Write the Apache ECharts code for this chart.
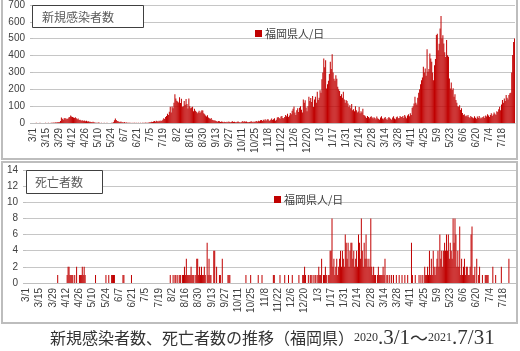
<!DOCTYPE html>
<html><head><meta charset="utf-8">
<script src="https://cdn.jsdelivr.net/npm/echarts/dist/echarts.min.js"></script>
<style>html,body{margin:0;padding:0;background:#fff}#c{width:520px;height:351px}</style>
</head><body><div id="c"></div>
<script>
// month list for categories (year, month, days)
const monthList = [[2020,3,31],[2020,4,30],[2020,5,31],[2020,6,30],[2020,7,31],[2020,8,31],[2020,9,30],[2020,10,31],[2020,11,30],[2020,12,31],[2021,1,31],[2021,2,28],[2021,3,31],[2021,4,30],[2021,5,31],[2021,6,30],[2021,7,31]];
const yTicksCases = [0,100,200,300,400,500,600,700];
const yTicksDeaths = [0,2,4,6,8,10,12,14];
const seriesName = '福岡県人/日';

// new cases per day
const c2020_03 = [0,0,0,1,0,0,0,1,0,0,0,0,0,1,0,0,1,0,0,1,2,1,3,2,4,3,5,4,4,12,33];
const c2020_04 = [25,20,28,30,22,26,24,33,35,44,38,36,32,30,34,28,22,26,18,20,16,14,17,12,15,10,13,9,11,8];
const c2020_05 = [7,6,5,8,4,3,2,2,1,3,1,0,1,0,0,1,0,0,1,0,0,0,0,2,1,4,16,26,18,12,10];
const c2020_06 = [8,6,9,5,4,3,6,2,3,1,2,1,1,0,1,0,2,1,0,1,0,2,0,1,0,1,2,0,3,2];
const c2020_07 = [1,2,3,5,4,8,6,9,12,8,14,11,9,13,10,15,12,20,28,24,36,42,55,48,66,97,62,98,88,120,170];
const c2020_08 = [146,132,128,122,153,118,144,96,100,130,108,142,112,86,146,100,88,92,96,70,84,72,66,58,64,72,60,68,76,74,58];
const c2020_09 = [52,44,38,46,32,28,24,30,20,18,14,16,12,10,8,12,10,6,9,7,5,8,6,4,7,5,9,6,4,8];
const c2020_10 = [10,6,8,5,4,7,9,6,3,5,8,12,6,10,7,9,5,4,6,8,11,7,5,9,6,10,12,8,14,11,16];
const c2020_11 = [18,12,20,15,22,14,19,24,17,12,20,26,18,22,28,14,20,32,36,30,25,38,42,30,28,36,48,40,55,35];
const c2020_12 = [44,60,52,72,85,98,62,48,76,88,65,90,100,78,62,140,120,135,92,70,100,155,130,148,125,160,95,140,156,120,185];
const c2021_01 = [136,150,195,180,260,300,383,330,372,205,230,250,290,363,320,408,300,262,250,284,262,215,200,190,160,170,150,186,140,120,136];
const c2021_02 = [130,116,95,106,88,112,76,82,70,100,75,62,68,95,58,70,62,85,48,44,38,30,42,35,28,36,40,32];
const c2021_03 = [26,34,30,22,38,28,24,20,33,40,27,22,30,36,25,18,28,35,30,24,20,32,40,26,22,34,38,28,30,42,36];
const c2021_04 = [36,42,30,48,38,28,44,52,40,58,47,90,100,116,156,120,110,150,180,200,230,254,270,333,300,323,280,437,304,320];
const c2021_05 = [412,383,363,300,254,343,380,522,530,431,470,560,635,501,520,471,420,392,492,402,393,264,205,240,196,206,156,170,136,120,100];
const c2021_06 = [97,106,77,88,60,47,52,40,44,38,47,35,30,42,36,33,28,40,31,25,38,30,42,26,33,28,35,40,30,45];
const c2021_07 = [38,52,44,36,48,58,42,50,62,55,48,70,65,82,97,75,110,136,120,145,130,166,150,140,166,176,180,300,403,481,502];

// deaths per day
const d2020_03 = [0,0,0,0,0,0,0,0,0,0,0,0,0,0,0,0,0,0,0,0,0,0,0,0,0,0,0,0,0,0,0];
const d2020_04 = [0,0,1,0,0,0,0,0,0,0,0,0,1,2,2,1,1,1,1,0,1,0,2,0,0,1,1,1,2,1];
const d2020_05 = [2,1,0,0,0,0,0,0,0,0,0,0,1,0,0,0,0,0,0,0,0,0,0,1,0,0,1,0,0,1,1];
const d2020_06 = [1,1,0,0,0,0,0,0,0,0,1,1,0,0,0,0,0,0,0,1,0,0,0,0,0,0,0,0,0,0];
const d2020_07 = [0,0,0,0,0,0,0,0,0,0,0,0,0,0,0,0,0,0,0,0,0,0,0,0,0,0,0,0,0,0,1];
const d2020_08 = [0,0,1,0,1,1,0,1,0,1,1,0,1,1,2,1,3,1,1,1,1,2,1,1,1,0,1,3,3,1,2];
const d2020_09 = [1,2,1,1,2,1,0,5,1,3,1,1,0,0,4,4,0,2,0,0,1,1,0,3,0,0,0,0,0,1];
const d2020_10 = [1,1,0,0,0,0,0,0,0,0,0,0,0,0,0,0,0,0,1,0,0,0,0,1,0,0,0,0,0,0,0];
const d2020_11 = [1,0,0,0,1,0,0,0,0,0,0,0,0,0,0,0,1,1,0,0,0,0,0,1,0,0,0,0,1,0];
const d2020_12 = [0,0,1,0,0,0,1,0,0,0,0,0,0,1,0,0,0,1,1,2,1,0,0,1,0,1,1,0,1,0,1];
const d2021_01 = [1,0,1,2,1,1,3,0,1,1,2,1,0,1,1,4,4,8,2,3,1,2,3,1,2,3,4,2,4,3,2];
const d2021_02 = [6,5,3,5,2,4,5,5,3,4,2,3,4,2,6,5,3,8,4,2,5,3,6,3,2,3,2,8];
const d2021_03 = [2,1,2,1,1,0,1,2,1,1,1,1,2,1,3,0,1,1,0,1,0,1,0,1,0,0,1,0,0,1,0];
const d2021_04 = [0,1,0,0,1,0,0,1,0,0,0,5,1,0,0,1,0,0,0,1,0,1,0,1,0,2,1,1,2,1];
const d2021_05 = [4,1,3,1,4,2,1,2,3,4,2,6,3,4,2,4,5,4,6,4,6,3,5,4,3,8,5,8,6,2,4];
const d2021_06 = [2,7,1,3,1,2,3,1,2,2,1,1,2,6,7,1,1,2,0,3,0,1,2,0,0,1,0,0,1,1];
const d2021_07 = [1,1,0,0,0,0,2,0,0,1,0,0,0,0,0,2,0,0,0,0,0,0,0,3,0,0,0,0,0,0,0];

const cases = [].concat(c2020_03,c2020_04,c2020_05,c2020_06,c2020_07,c2020_08,c2020_09,c2020_10,c2020_11,c2020_12,c2021_01,c2021_02,c2021_03,c2021_04,c2021_05,c2021_06,c2021_07);
const deaths = [].concat(d2020_03,d2020_04,d2020_05,d2020_06,d2020_07,d2020_08,d2020_09,d2020_10,d2020_11,d2020_12,d2021_01,d2021_02,d2021_03,d2021_04,d2021_05,d2021_06,d2021_07);

const categories = [];
monthList.forEach(([y,m,n]) => { for (let d = 1; d <= n; d++) categories.push(m + '/' + d); });

const FONT = '"Liberation Sans", "Noto Sans CJK JP", sans-serif';
const JFONT = '"Noto Sans CJK JP", sans-serif';
const SERIF = '"Liberation Serif", "Noto Sans CJK JP", serif';
const labelColor = '#404040';
const gridColor = '#c6c6c6';

function xAxisCfg(gi) {
  return {
    type: 'category', gridIndex: gi, data: categories, boundaryGap: true,
    axisLine: { lineStyle: { color: '#bfbfbf', width: 1 } },
    axisTick: { interval: 13, length: 4, alignWithLabel: true, lineStyle: { color: '#bfbfbf' } },
    axisLabel: { interval: 13, rotate: 90, fontSize: 10, color: labelColor, margin: 5, fontFamily: FONT }
  };
}
function yAxisCfg(gi, ticks, margin) {
  return {
    type: 'value', gridIndex: gi, min: ticks[0], max: ticks[ticks.length - 1], interval: ticks[1] - ticks[0],
    axisLine: { show: false },
    axisTick: { show: true, length: 3, lineStyle: { color: '#bfbfbf' } },
    splitLine: { lineStyle: { color: gridColor, width: 1 } },
    axisLabel: { fontSize: 10, color: labelColor, margin: margin, fontFamily: FONT }
  };
}

const chart = echarts.init(document.getElementById('c'), null, { renderer: 'canvas' });
chart.setOption({
  animation: false,
  backgroundColor: '#fff',
  grid: [
    { left: 33, right: 5, top: 5, bottom: 228 },
    { left: 26, right: 4, top: 170, bottom: 68 }
  ],
  xAxis: [xAxisCfg(0), xAxisCfg(1)],
  yAxis: [yAxisCfg(0, yTicksCases, 8), yAxisCfg(1, yTicksDeaths, 8)],
  legend: [
    { data: [seriesName], left: 250, top: 23, itemWidth: 7, itemHeight: 7, icon: 'rect',
      textStyle: { fontSize: 11, color: labelColor, fontFamily: JFONT, padding: [0,0,0,-2] } },
    { data: [seriesName], left: 269, top: 189, itemWidth: 7, itemHeight: 7, icon: 'rect',
      textStyle: { fontSize: 11, color: labelColor, fontFamily: JFONT, padding: [0,0,0,-2] } }
  ],
  series: [
    { name: seriesName, type: 'bar', xAxisIndex: 0, yAxisIndex: 0, data: cases,
      barCategoryGap: '0%', itemStyle: { color: '#C00000' } },
    { name: seriesName, type: 'bar', xAxisIndex: 1, yAxisIndex: 1, data: deaths,
      barCategoryGap: '0%', itemStyle: { color: '#C00000' } }
  ],
  graphic: [
    { type: 'rect', z: -10, shape: { x: 2, y: -1, width: 515, height: 160 },
      style: { fill: 'none', stroke: '#bdbdbd', lineWidth: 2 } },
    { type: 'rect', z: -10, shape: { x: 2, y: 162, width: 515, height: 161 },
      style: { fill: 'none', stroke: '#bdbdbd', lineWidth: 2 } },
    { type: 'rect', z: 100, shape: { x: 32.5, y: 5.5, width: 111, height: 22 },
      style: { fill: '#fff', stroke: '#404040', lineWidth: 1 } },
    { type: 'text', z: 101, x: 42, y: 17,
      style: { text: '新規感染者数', fontSize: 12, fill: '#595959', fontFamily: JFONT, verticalAlign: 'middle' } },
    { type: 'rect', z: 100, shape: { x: 26.5, y: 170.5, width: 76, height: 23 },
      style: { fill: '#fff', stroke: '#404040', lineWidth: 1 } },
    { type: 'text', z: 101, x: 35, y: 182,
      style: { text: '死亡者数', fontSize: 12, fill: '#595959', fontFamily: JFONT, verticalAlign: 'middle' } },
    { type: 'text', z: 101, x: 50, y: 338,
      style: {
        text: '{a|新規感染者数、死亡者数の推移（福岡県）}{b|2020}{c|.3/1}{d|～}{b|2021}{c|.7/31}',
        verticalAlign: 'middle', fill: '#333',
        rich: {
          a: { fontSize: 16, fontFamily: JFONT, fill: '#333' },
          b: { fontSize: 12, fontFamily: SERIF, fill: '#333' },
          c: { fontSize: 21, fontFamily: SERIF, fill: '#333' },
          d: { fontSize: 18, fontFamily: JFONT, fill: '#333' }
        }
      } }
  ]
});
</script></body></html>
